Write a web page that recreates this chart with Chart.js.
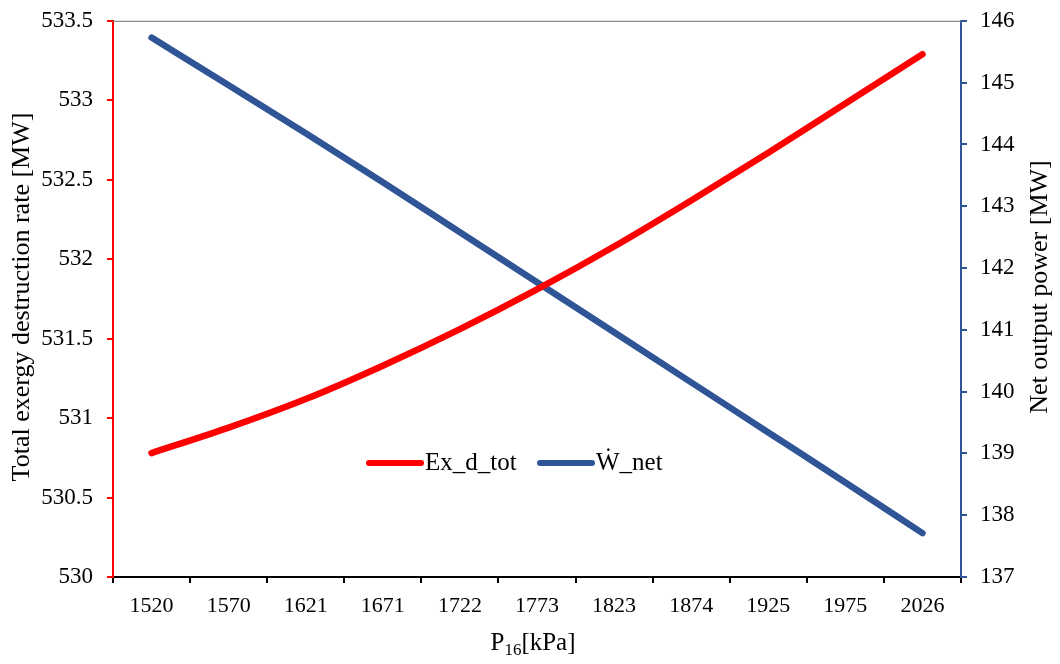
<!DOCTYPE html>
<html>
<head>
<meta charset="utf-8">
<script src="https://cdn.jsdelivr.net/npm/chart.js@4/dist/chart.umd.min.js"></script>
<style>
  html, body { margin: 0; padding: 0; background: #ffffff; }
  #wrap { width: 1060px; height: 664px; }
</style>
</head>
<body>
<div id="wrap"><canvas id="c" width="1060" height="664"></canvas></div>
<script>
const categories = ['1520', '1570', '1621', '1671', '1722', '1773', '1823', '1874', '1925', '1975', '2026'];
const exDestruction = [530.78, 530.94, 531.12, 531.33, 531.56, 531.81, 532.08, 532.37, 532.67, 532.98, 533.29];
const netPower = [145.73, 144.96, 144.18, 143.39, 142.58, 141.77, 140.96, 140.15, 139.34, 138.53, 137.71];
const seriesLabels = ['Ex_d_tot', '\u1E86_net'];
const leftTitle = 'Total exergy destruction rate [MW]';
const rightTitle = 'Net output power [MW]';
const xTitleMain = 'P';
const xTitleSub = '16';
const xTitleUnit = '[kPa]';

const RED = '#FF0000';
const BLUE = '#2F5597';
const FONT = '"Liberation Serif", "Times New Roman", serif';

const decor = {
  id: 'decor',
  afterDraw(chart) {
    const ctx = chart.ctx;
    const a = chart.chartArea;
    ctx.save();
    // top border
    ctx.strokeStyle = '#888888';
    ctx.lineWidth = 1.2;
    ctx.beginPath();
    ctx.moveTo(a.left, a.top + 0.5);
    ctx.lineTo(a.right, a.top + 0.5);
    ctx.stroke();

    ctx.fillStyle = '#000000';
    ctx.font = '26px ' + FONT;
    ctx.textAlign = 'center';
    ctx.textBaseline = 'middle';
    // left title
    ctx.save();
    ctx.translate(22, 297);
    ctx.rotate(-Math.PI / 2);
    ctx.fillText(leftTitle, 0, 0);
    ctx.restore();
    // right title
    ctx.save();
    ctx.translate(1040, 287);
    ctx.rotate(-Math.PI / 2);
    ctx.fillText(rightTitle, 0, 0);
    ctx.restore();

    // x title with subscript
    ctx.textAlign = 'left';
    ctx.textBaseline = 'alphabetic';
    const mainFont = '25px ' + FONT;
    const subFont = '17px ' + FONT;
    ctx.font = mainFont;
    const wP = ctx.measureText(xTitleMain).width;
    const wU = ctx.measureText(xTitleUnit).width;
    ctx.font = subFont;
    const wS = ctx.measureText(xTitleSub).width;
    const total = wP + wS + wU;
    let x = (a.left + a.right) / 2 - 4 - total / 2;
    const base = 650;
    ctx.font = mainFont;
    ctx.fillText(xTitleMain, x, base);
    x += wP;
    ctx.font = subFont;
    ctx.fillText(xTitleSub, x, base + 5);
    x += wS;
    ctx.font = mainFont;
    ctx.fillText(xTitleUnit, x, base);

    // legend
    const items = chart.data.datasets.map(d => ({ label: d.label, color: d.borderColor }));
    const legendY = 463;
    const starts = [366, 537];
    ctx.font = '25px ' + FONT;
    ctx.textBaseline = 'middle';
    items.forEach((it, i) => {
      const lx = starts[i];
      ctx.strokeStyle = it.color;
      ctx.lineWidth = 6;
      ctx.lineCap = 'round';
      ctx.beginPath();
      ctx.moveTo(lx + 3, legendY);
      ctx.lineTo(lx + 55, legendY);
      ctx.stroke();
      ctx.fillStyle = '#000000';
      ctx.fillText(it.label, lx + 59, legendY);
    });
    ctx.restore();
  }
};

new Chart(document.getElementById('c'), {
  type: 'line',
  data: {
    labels: categories,
    datasets: [
      {
        label: seriesLabels[0],
        data: exDestruction,
        yAxisID: 'yL',
        borderColor: RED,
        backgroundColor: RED,
        borderWidth: 6.5,
        borderCapStyle: 'round',
        pointRadius: 0,
        cubicInterpolationMode: 'monotone'
      },
      {
        label: seriesLabels[1],
        data: netPower,
        yAxisID: 'yR',
        borderColor: BLUE,
        backgroundColor: BLUE,
        borderWidth: 6.5,
        borderCapStyle: 'round',
        pointRadius: 0,
        cubicInterpolationMode: 'monotone'
      }
    ]
  },
  options: {
    responsive: false,
    animation: false,
    layout: { padding: { left: 0, right: 0, top: 18, bottom: 0 } },
    plugins: { legend: { display: false }, tooltip: { enabled: false } },
    scales: {
      x: {
        type: 'category',
        offset: true,
        grid: { offset: true, drawOnChartArea: false, drawTicks: true, tickLength: 6, color: '#000000', lineWidth: 2 },
        border: { display: true, color: '#000000', width: 2 },
        ticks: { color: '#000000', font: { family: FONT, size: 22 }, padding: 10, maxRotation: 0, autoSkip: false },
        afterFit(s) { s.height = 87; }
      },
      yL: {
        position: 'left',
        min: 530,
        max: 533.5,
        grid: { drawOnChartArea: false, drawTicks: true, tickLength: 6, color: RED, lineWidth: 2 },
        border: { display: true, color: RED, width: 2 },
        ticks: { stepSize: 0.5, color: '#000000', font: { family: FONT, size: 23, lineHeight: 0.6 }, padding: 14,
                 callback: v => String(Math.round(v * 10) / 10) },
        afterFit(s) { s.width = 113; }
      },
      yR: {
        position: 'right',
        min: 137,
        max: 146,
        grid: { drawOnChartArea: false, drawTicks: true, tickLength: 6, color: BLUE, lineWidth: 2 },
        border: { display: true, color: BLUE, width: 2 },
        ticks: { stepSize: 1, color: '#000000', font: { family: FONT, size: 23, lineHeight: 0.6 }, padding: 13,
                 callback: v => String(v) },
        afterFit(s) { s.width = 99; }
      }
    }
  },
  plugins: [decor]
});
</script>
</body>
</html>
